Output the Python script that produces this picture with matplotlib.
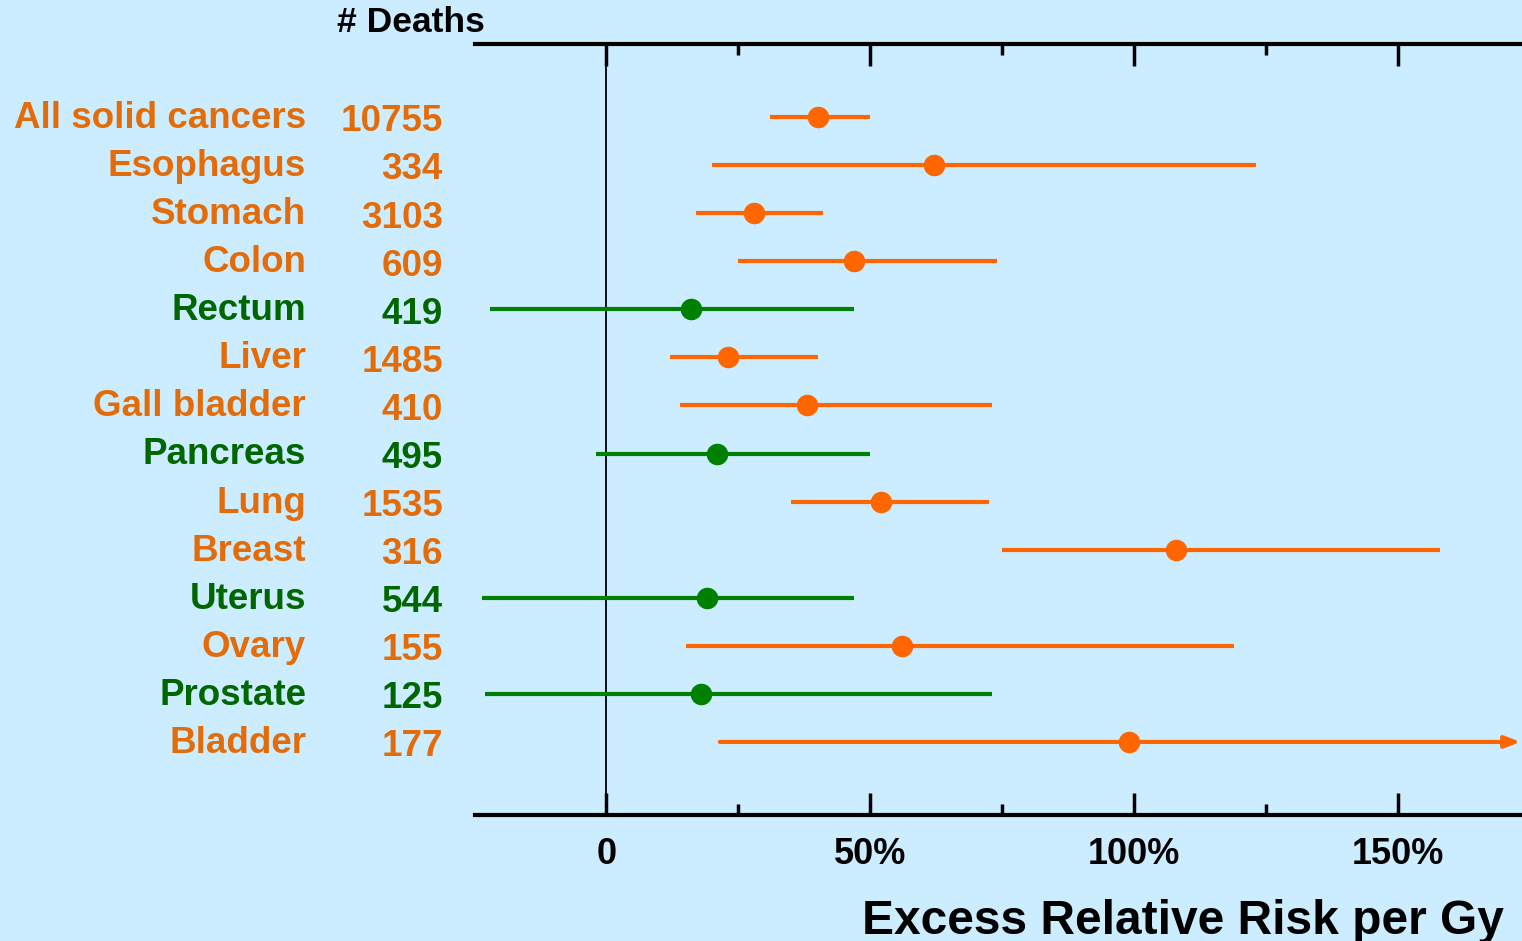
import numpy as np
import matplotlib
matplotlib.use("Agg")
import matplotlib.pyplot as plt
import matplotlib.transforms as mtransforms

plt.rcParams['font.family'] = ['Liberation Sans', 'DejaVu Sans']
plt.rcParams['font.weight'] = 'bold'

# data (excess relative risk per Gy, in %)
sites = ["All solid cancers", "Esophagus", "Stomach", "Colon", "Rectum", "Liver",
         "Gall bladder", "Pancreas", "Lung", "Breast", "Uterus", "Ovary",
         "Prostate", "Bladder"]
deaths = ["10755", "334", "3103", "609", "419", "1485", "410", "495", "1535",
          "316", "544", "155", "125", "177"]
err = [40, 62, 28, 47, 16, 23, 38, 21, 52, 108, 19, 56, 18, 99]
ci_low = [31, 20, 17, 25, -22, 12, 14, -2, 35, 75, -23.5, 15, -23, 21.5]
ci_high = [50, 123, 41, 74, 47, 40, 73, 50, 72.5, 158, 47, 119, 73, 200]
significant = [True, True, True, True, False, True, True, False, True, True,
               False, True, False, True]

orange_line = "#FF6600"
orange_text = "#E36C09"
green_line = "#008000"
green_text = "#006600"
bg = "#CCECFF"

fig = plt.figure(figsize=(15.22, 9.41), dpi=100, facecolor=bg)
ax = fig.add_axes([0.3121, 0.1339, 0.6879, 0.8193])
ax.set_facecolor(bg)

xmin, xmax = -24.9, 173.5
ax.set_xlim(xmin, xmax)
ax.set_ylim(len(sites) - 1 + 1.52, -1.52)

for i in range(len(sites)):
    lc = orange_line if significant[i] else green_line
    hi = ci_high[i]
    if hi > xmax:
        # interval runs off the chart: draw it as an arrow
        ax.annotate("", xy=(xmax - 0.3, i), xytext=(ci_low[i], i),
                    arrowprops=dict(arrowstyle="-|>,head_length=0.9,head_width=0.35",
                                    color=lc, lw=3, shrinkA=0, shrinkB=0),
                    annotation_clip=False)
    else:
        ax.plot([ci_low[i], hi], [i, i], color=lc, lw=3, solid_capstyle='butt')
    ax.plot(err[i], i, 'o', color=lc, markersize=14.5, zorder=5)

# labels to the left of the axes (x in figure fraction, y in data rows)
trans = mtransforms.blended_transform_factory(fig.transFigure, ax.transData)
for i in range(len(sites)):
    tc = orange_text if significant[i] else green_text
    ax.text(306 / 1522, i + 0.03, sites[i], transform=trans, ha='right', va='center',
            fontsize=26.5, color=tc, fontweight='bold', clip_on=False)
    ax.text(443 / 1522, i + 0.1, deaths[i], transform=trans, ha='right', va='center',
            fontsize=26.5, color=tc, fontweight='bold', clip_on=False)

ax.axvline(0, color='black', lw=1.3, zorder=1)

for side in ['left', 'right']:
    ax.spines[side].set_visible(False)
for side in ['top', 'bottom']:
    ax.spines[side].set_linewidth(3)

ax.set_yticks([])
ax.set_xticks([0, 50, 100, 150])
ax.set_xticks([25, 75, 125], minor=True)
ax.set_xticklabels(["0", "50%", "100%", "150%"])
ax.tick_params(axis='x', which='major', direction='in', length=16, width=2.5,
               top=True, bottom=True, labelsize=26, pad=16)
ax.tick_params(axis='x', which='minor', direction='in', length=8, width=2.5,
               top=True, bottom=True)
for lab in ax.get_xticklabels():
    lab.set_fontweight('bold')

fig.text(0.988, 1 - 921 / 941, "Excess Relative Risk per Gy", ha='right', va='center',
         fontsize=34.5, fontweight='bold', color='black')
fig.text(411 / 1522, 1 - 23 / 941, "# Deaths", ha='center', va='center',
         fontsize=25.5, fontweight='bold', color='black')

fig.savefig("out.png", dpi=100, facecolor=bg)
